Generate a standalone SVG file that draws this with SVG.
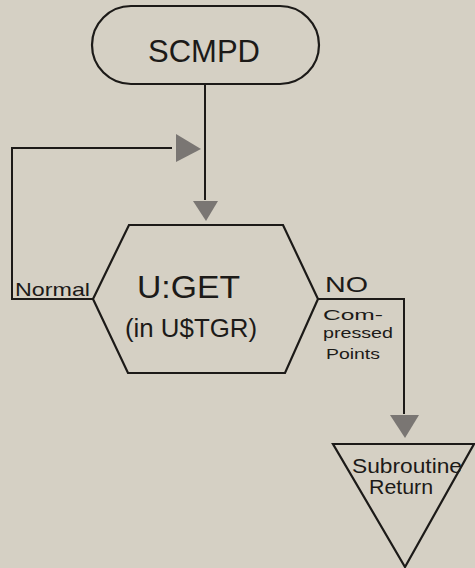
<svg xmlns="http://www.w3.org/2000/svg" width="475" height="568" viewBox="0 0 475 568">
<defs>
<style>
.ln{fill:none;stroke:#1c1a18;stroke-width:2}
.sh{fill:none;stroke:#1c1a18;stroke-width:2.2}
.ah{fill:#7a7673;stroke:none}
text{font-family:"Liberation Sans",Arial,sans-serif;fill:#1c1a18}
</style>
</defs>
<rect width="475" height="568" fill="#d5d0c4"/>
<g id="connectors">
<polyline class="ln" points="205,84 205,200"/>
<polygon class="ah" points="176,134 201,149 176,162"/>
<polyline class="ln" points="93,299 12,299 12,148 172,148"/>
<polygon class="ah" points="193,201 218,201 206,221"/>
<polyline class="ln" points="318,299 404,299 404,414"/>
<polygon class="ah" points="390,415 419,415 405,438"/>
<text x="15" y="296" font-size="19" textLength="75" lengthAdjust="spacingAndGlyphs">Normal</text>
<text x="325" y="292" font-size="22" textLength="43" lengthAdjust="spacingAndGlyphs">NO</text>
<text x="323" y="320" font-size="15" textLength="60" lengthAdjust="spacingAndGlyphs">Com-</text>
<text x="323" y="338" font-size="15" textLength="70" lengthAdjust="spacingAndGlyphs">pressed</text>
<text x="326" y="359" font-size="15" textLength="54" lengthAdjust="spacingAndGlyphs">Points</text>
</g>
<g id="start">
<rect class="sh" x="92" y="6" width="227" height="78" rx="39"/>
<text x="148" y="62" font-size="31" textLength="112" lengthAdjust="spacingAndGlyphs">SCMPD</text>
</g>
<g id="uget">
<polygon class="sh" points="129,225 283,225 318,299 285,373 128,373 93,299"/>
<text x="137" y="298" font-size="31" textLength="103" lengthAdjust="spacingAndGlyphs">U:GET</text>
<text x="125" y="337" font-size="25" textLength="132" lengthAdjust="spacingAndGlyphs">(in U$TGR)</text>
</g>
<g id="return">
<polygon class="sh" points="333,444 474,444 405,567"/>
<text x="352" y="473" font-size="20" textLength="110" lengthAdjust="spacingAndGlyphs">Subroutine</text>
<text x="369" y="494" font-size="20" textLength="64" lengthAdjust="spacingAndGlyphs">Return</text>
</g>
</svg>
